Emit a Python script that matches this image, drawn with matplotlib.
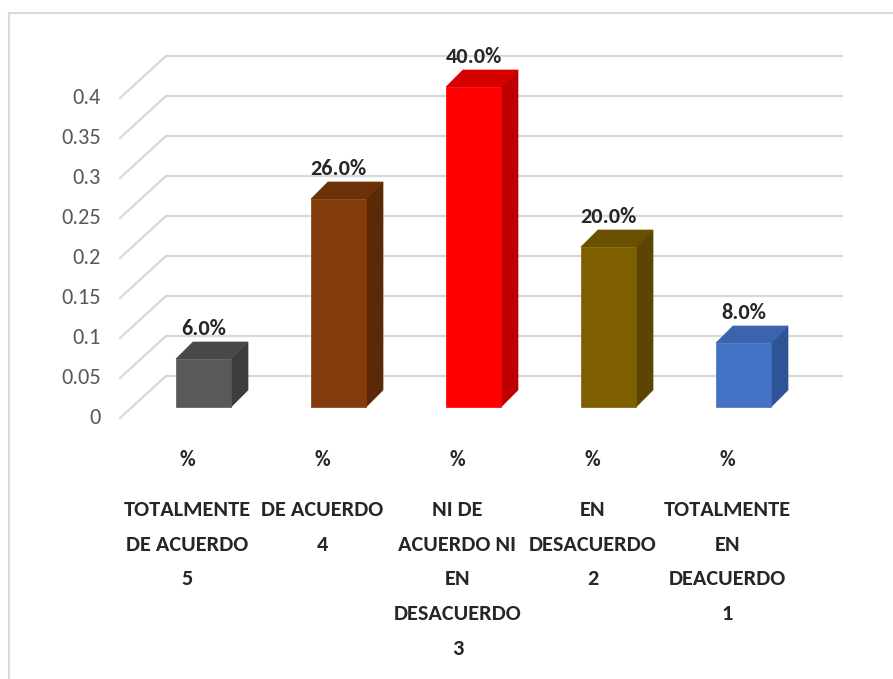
import matplotlib
matplotlib.use("Agg")
import matplotlib.pyplot as plt
from matplotlib.patches import Polygon
from matplotlib.lines import Line2D

# ---- data ----
categories = [
    "TOTALMENTE\nDE ACUERDO\n5",
    "DE ACUERDO\n4",
    "NI DE\nACUERDO NI\nEN\nDESACUERDO\n3",
    "EN\nDESACUERDO\n2",
    "TOTALMENTE\nEN\nDEACUERDO\n1",
]
series_name = "%"
values = [0.06, 0.26, 0.40, 0.20, 0.08]
value_labels = ["6.0%", "26.0%", "40.0%", "20.0%", "8.0%"]
y_ticks = [0, 0.05, 0.1, 0.15, 0.2, 0.25, 0.3, 0.35, 0.4]
y_tick_labels = ["0", "0.05", "0.1", "0.15", "0.2", "0.25", "0.3", "0.35", "0.4"]

# face colours: front, top, side
bar_colors = [
    ("#595959", "#484848", "#3d3d3d"),
    ("#843C0C", "#6d310a", "#5c2907"),
    ("#FF0000", "#d60000", "#c00000"),
    ("#7F6000", "#6a5000", "#5b4500"),
    ("#4472C4", "#3b64ae", "#2f5597"),
]

FONT = ["Carlito", "DejaVu Sans"]

# ---- layout (pixels) ----
W, H, DPI = 893, 679, 100
X0_PX, STEP_PX = 203.5, 135.0      # first bar centre, spacing between bars
Y0_PX, PPU = 407.0, 800.0          # bar baseline, pixels per value unit
BAR_W = 55 / STEP_PX
DEPTH_X, DEPTH_Y = 17 / STEP_PX, 17 / PPU
WALL_DY = (Y0_PX - 376) / PPU      # back wall raised above bar baseline
FLOOR_DY = (Y0_PX - 418) / PPU     # front floor edge below bar baseline
WALL_X0 = (166 - X0_PX) / STEP_PX
WALL_X1 = (843 - X0_PX) / STEP_PX
FRONT_X = (120 - X0_PX) / STEP_PX
TICK_X = (101 - X0_PX) / STEP_PX

fig = plt.figure(figsize=(W / DPI, H / DPI), dpi=DPI)
ax = fig.add_axes([0, 0, 1, 1])
ax.set_xlim(-X0_PX / STEP_PX, (W - X0_PX) / STEP_PX)
ax.set_ylim((Y0_PX - H) / PPU, Y0_PX / PPU)
ax.axis("off")

grid_c = "#d9d9d9"
# back-wall gridlines and the receding lines on the left wall
for t, lab in zip(y_ticks, y_tick_labels):
    ax.plot([WALL_X0, WALL_X1], [t + WALL_DY, t + WALL_DY], color=grid_c, lw=1.6, zorder=1,
            solid_capstyle="butt")
    ax.plot([FRONT_X, WALL_X0], [t + FLOOR_DY, t + WALL_DY], color=grid_c, lw=1.6, zorder=1)
    ax.text(TICK_X, t + FLOOR_DY, lab, ha="right", va="center", fontsize=16,
            color="#595959", family=FONT)

# 3-D style bars
for i, (v, (cf, ct, cs)) in enumerate(zip(values, bar_colors)):
    xl, xr = i - BAR_W / 2, i + BAR_W / 2
    front = [(xl, 0), (xr, 0), (xr, v), (xl, v)]
    side = [(xr, 0), (xr + DEPTH_X, DEPTH_Y), (xr + DEPTH_X, v + DEPTH_Y), (xr, v)]
    top = [(xl, v), (xl + DEPTH_X, v + DEPTH_Y), (xr + DEPTH_X, v + DEPTH_Y), (xr, v)]
    ax.add_patch(Polygon(side, closed=True, facecolor=cs, edgecolor=cs, lw=0.5, zorder=3))
    ax.add_patch(Polygon(top, closed=True, facecolor=ct, edgecolor=ct, lw=0.5, zorder=3))
    ax.add_patch(Polygon(front, closed=True, facecolor=cf, edgecolor=cf, lw=0.5, zorder=4))
    ax.text(i, v + DEPTH_Y + 3 / PPU, value_labels[i], ha="center", va="bottom",
            fontsize=16, fontweight="bold", color="#262626", family=FONT, zorder=5)

# category axis labels
LAB_DX = -16 / STEP_PX
for i, cat in enumerate(categories):
    ax.text(i + LAB_DX, (Y0_PX - 460) / PPU, series_name, ha="center", va="center",
            fontsize=15.5, fontweight="bold", color="#262626", family=FONT)
    ax.text(i + LAB_DX, (Y0_PX - 500) / PPU, cat, ha="center", va="top",
            fontsize=16, fontweight="bold", color="#262626", family=FONT,
            linespacing=1.92, multialignment="center")

# chart frame (left and top edges)
bx, by = 8.5 / W, 1 - 12.5 / H
fig.add_artist(Line2D([bx, bx], [0, by], transform=fig.transFigure, color="#d9d9d9", lw=1.5))
fig.add_artist(Line2D([bx, 1], [by, by], transform=fig.transFigure, color="#d9d9d9", lw=1.5))

fig.savefig("out.png", dpi=DPI, facecolor="white")
